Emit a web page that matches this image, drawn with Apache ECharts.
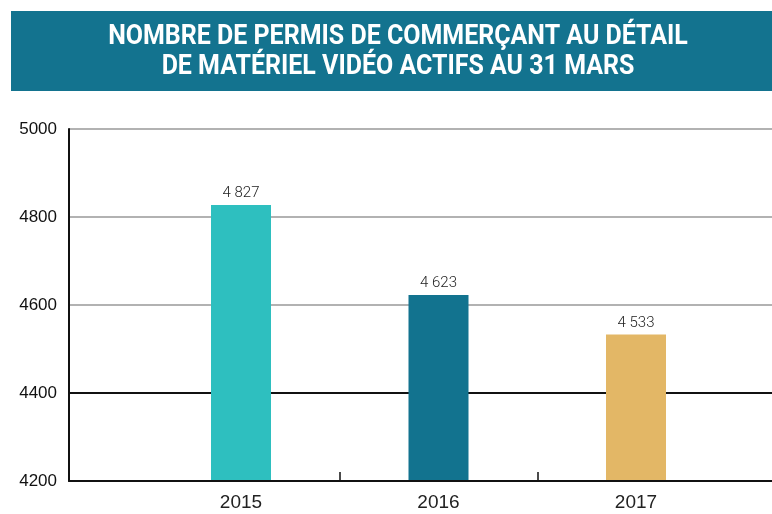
<!DOCTYPE html>
<html><head><meta charset="utf-8">
<script src="https://cdn.jsdelivr.net/npm/echarts@6/dist/echarts.min.js"></script>
<style>html,body{margin:0;padding:0;background:#fff}#c{width:772px;height:514px}</style>
</head><body><div id="c"></div>
<script>
const titleLines = ['NOMBRE DE PERMIS DE COMMERÇANT AU DÉTAIL', 'DE MATÉRIEL VIDÉO ACTIFS AU 31 MARS'];
const categories = ['2015', '2016', '2017'];
const values = [4827, 4623, 4533];
const yTicks = [4200, 4400, 4600, 4800, 5000];
const barColors = ['#2ebfbf', '#12738f', '#e3b766'];

const W = 772, H = 514;
const plotLeft = 69, plotTop = 129, plotBottom = 481;
const band = 197.5, firstCenter = 241;
const barsLeft = firstCenter - band / 2;
const barsWidth = band * categories.length;
const yMin = yTicks[0], yMax = yTicks[yTicks.length - 1], yStep = yTicks[1] - yTicks[0];

const chart = echarts.init(document.getElementById('c'), null, {renderer: 'canvas'});
const fmt = v => String(v).replace(/\B(?=(\d{3})+(?!\d))/g, ' ');
const yBase = {type: 'value', min: yMin, max: yMax, interval: yStep};
const titleFont = 'bold 27px Roboto';

chart.setOption({
  animation: false,
  backgroundColor: '#ffffff',
  graphic: [
    {type: 'rect', shape: {x: 11, y: 11, width: W - 11, height: 80}, style: {fill: '#13738f'}, z: 0},
    {type: 'text', x: 398, y: 37, scaleX: 0.925, style: {text: titleLines[0], fill: '#ffffff', font: titleFont, align: 'center', verticalAlign: 'middle'}, z: 1},
    {type: 'text', x: 398, y: 67, scaleX: 0.925, style: {text: titleLines[1], fill: '#ffffff', font: titleFont, align: 'center', verticalAlign: 'middle'}, z: 1}
  ],
  grid: [
    {left: plotLeft, right: 0, top: plotTop, bottom: H - plotBottom},
    {left: barsLeft, width: barsWidth, top: plotTop, bottom: H - plotBottom},
    {left: barsLeft + band, width: band, top: plotTop, bottom: H - plotBottom}
  ],
  xAxis: [
    {gridIndex: 0, type: 'category', data: categories, axisLine: {show: true, lineStyle: {color: '#111', width: 2}}, axisTick: {show: false}, axisLabel: {show: false}, z: 5},
    {gridIndex: 1, type: 'category', data: categories, axisLine: {show: false}, axisTick: {show: false},
     axisLabel: {color: '#222', fontSize: 19, fontFamily: 'Liberation Sans, Arial, sans-serif', margin: 12}},
    {gridIndex: 2, type: 'category', data: [''], axisLine: {show: false}, axisLabel: {show: false},
     axisTick: {show: true, inside: true, length: 9, lineStyle: {color: '#111', width: 1.5}}}
  ],
  yAxis: [
    Object.assign({gridIndex: 0}, yBase, {
      axisLine: {show: true, lineStyle: {color: '#111', width: 2}},
      axisTick: {show: false},
      axisLabel: {color: '#111', fontSize: 17, fontFamily: 'Liberation Sans, Arial, sans-serif', margin: 12, padding: [0, 0, 8, 0],
        formatter: v => String(v)},
      splitLine: {show: true, lineStyle: {color: ['#111', '#111', '#b2b2b2', '#b2b2b2', '#b2b2b2'], width: 2}}
    }),
    Object.assign({gridIndex: 1, show: false}, yBase),
    Object.assign({gridIndex: 2, show: false}, yBase)
  ],
  series: [{
    type: 'bar', xAxisIndex: 1, yAxisIndex: 1,
    barWidth: 60,
    data: values.map((v, i) => ({value: v, itemStyle: {color: barColors[i]}})),
    label: {show: true, position: 'top', distance: 4, color: '#222', fontSize: 15, fontWeight: 300, fontFamily: 'Roboto, Liberation Sans, sans-serif',
      formatter: p => fmt(p.value)},
    z: 3
  }]
});
</script></body></html>
